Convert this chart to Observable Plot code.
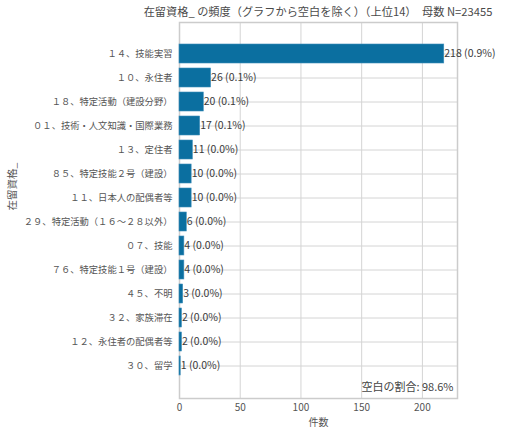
<!DOCTYPE html>
<html>
<head>
<meta charset="utf-8">
<script src="https://cdn.jsdelivr.net/npm/d3@7"></script>
<script src="https://cdn.jsdelivr.net/npm/@observablehq/plot@0.6"></script>
<style>
  body { margin: 0; background: #fff; font-family: "Noto Sans CJK JP", sans-serif; }
  #wrap { position: relative; width: 512px; height: 434px; }
  #title { position: absolute; left: 318px; top: 3px; transform: translateX(-50%); white-space: nowrap; font-size: 11.2px; color: #4a4a4a; }
  #chart { position: absolute; left: 0; top: 21px; }
</style>
</head>
<body>
<div id="wrap">
  <div id="title">在留資格_ の頻度（グラフから空白を除く）（上位14）　母数 N=23455</div>
  <div id="chart"></div>
</div>
<script>
const categories = [
  '１４、技能実習',
  '１０、永住者',
  '１８、特定活動（建設分野）',
  '０１、技術・人文知識・国際業務',
  '１３、定住者',
  '８５、特定技能２号（建設）',
  '１１、日本人の配偶者等',
  '２９、特定活動（１６～２８以外）',
  '０７、技能',
  '７６、特定技能１号（建設）',
  '４５、不明',
  '３２、家族滞在',
  '１２、永住者の配偶者等',
  '３０、留学'
]
const counts = [218, 26, 20, 17, 11, 10, 10, 6, 4, 4, 3, 2, 2, 1]
const N = 23455
const blankRate = ['98.6%']
const xTicks = [0, 50, 100, 150, 200]

const data = categories.map((c, i) => ({name: c, count: counts[i]}))

let chart = Plot.plot({
  width: 512,
  height: 413,
  marginLeft: 179,
  marginRight: 55,
  marginTop: 1,
  marginBottom: 36,
  style: {
    fontFamily: '"Noto Sans CJK JP", sans-serif',
    background: '#fff',
    color: '#555'
  },
  x: {domain: [0, 228.9], label: null},
  y: {domain: categories, paddingInner: 0.2, paddingOuter: 0.69, label: null},
  marks: [
    Plot.gridX(xTicks, {stroke: '#d4d4d4', strokeOpacity: 1}),
    Plot.gridY(categories, {stroke: '#d4d4d4', strokeOpacity: 1}),
    Plot.frame({stroke: '#cccccc', strokeWidth: 1.5}),
    Plot.barX(data, {
      x: 'count',
      y: 'name',
      fill: '#0b6fa0',
      stroke: '#3f8dba',
      strokeWidth: 0.6
    }),
    Plot.text(data, {
      x: 'count',
      y: 'name',
      text: d => `${d.count} (${(d.count / N * 100).toFixed(1)}%)`,
      textAnchor: 'start',
      fontSize: 10.5,
      fill: '#3a3a3a'
    }),
    Plot.axisX(xTicks, {
      tickSize: 0,
      tickPadding: 5,
      fontSize: 10,
      label: '件数',
      labelAnchor: 'center',
      labelArrow: 'none',
      labelOffset: 27
    }),
    Plot.axisY({
      tickSize: 0,
      tickPadding: 7,
      fontSize: 9.3,
      label: null
    }),
    // y軸ラベル
    Plot.text(['在留資格_'], {
      frameAnchor: 'left',
      text: d => d,
      rotate: -90,
      dx: -167,
      fontSize: 10.5,
      fill: '#555'
    }),
    Plot.text(blankRate, {
      frameAnchor: 'bottom-right',
      text: d => `空白の割合: ${d}`,
      dx: -4,
      dy: -8,
      fontSize: 11,
      fill: '#444'
    })
  ]
})
d3.select('#chart').append(() => chart)
</script>
</body>
</html>
